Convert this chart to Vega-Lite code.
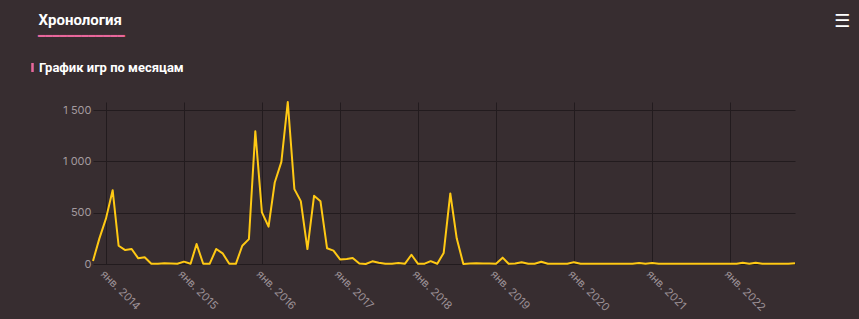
{
  "$schema": "https://vega.github.io/schema/vega-lite/v6.json",
  "width": 702,
  "height": 162,
  "autosize": {"type": "none"},
  "padding": {"left": 93, "top": 102, "right": 64, "bottom": 55},
  "background": "#372d30",
  "title": {
    "text": "━━━━━━━━━━━━",
    "anchor": "start",
    "frame": "group",
    "dx": -55,
    "dy": 11,
    "offset": -20,
    "font": "DejaVu Sans Mono",
    "fontSize": 12,
    "fontWeight": "normal",
    "color": "#e8679b"
  },
  "data": {
    "values": [
      {"m": "2013-11-01", "v": 30}, {"m": "2013-12-01", "v": 250},
      {"m": "2014-01-01", "v": 445}, {"m": "2014-02-01", "v": 720}, {"m": "2014-03-01", "v": 178}, {"m": "2014-04-01", "v": 136},
      {"m": "2014-05-01", "v": 146}, {"m": "2014-06-01", "v": 55}, {"m": "2014-07-01", "v": 65}, {"m": "2014-08-01", "v": 2},
      {"m": "2014-09-01", "v": 3}, {"m": "2014-10-01", "v": 8}, {"m": "2014-11-01", "v": 5}, {"m": "2014-12-01", "v": 2},
      {"m": "2015-01-01", "v": 23}, {"m": "2015-02-01", "v": 2}, {"m": "2015-03-01", "v": 195}, {"m": "2015-04-01", "v": 2},
      {"m": "2015-05-01", "v": 2}, {"m": "2015-06-01", "v": 146}, {"m": "2015-07-01", "v": 104}, {"m": "2015-08-01", "v": 2},
      {"m": "2015-09-01", "v": 2}, {"m": "2015-10-01", "v": 178}, {"m": "2015-11-01", "v": 243}, {"m": "2015-12-01", "v": 1295},
      {"m": "2016-01-01", "v": 503}, {"m": "2016-02-01", "v": 364}, {"m": "2016-03-01", "v": 795}, {"m": "2016-04-01", "v": 996},
      {"m": "2016-05-01", "v": 1580}, {"m": "2016-06-01", "v": 730}, {"m": "2016-07-01", "v": 613}, {"m": "2016-08-01", "v": 146},
      {"m": "2016-09-01", "v": 665}, {"m": "2016-10-01", "v": 613}, {"m": "2016-11-01", "v": 153}, {"m": "2016-12-01", "v": 130},
      {"m": "2017-01-01", "v": 45}, {"m": "2017-02-01", "v": 48}, {"m": "2017-03-01", "v": 58}, {"m": "2017-04-01", "v": 5},
      {"m": "2017-05-01", "v": 0}, {"m": "2017-06-01", "v": 26}, {"m": "2017-07-01", "v": 13}, {"m": "2017-08-01", "v": 2},
      {"m": "2017-09-01", "v": 2}, {"m": "2017-10-01", "v": 10}, {"m": "2017-11-01", "v": 3}, {"m": "2017-12-01", "v": 90},
      {"m": "2018-01-01", "v": 2}, {"m": "2018-02-01", "v": 3}, {"m": "2018-03-01", "v": 28}, {"m": "2018-04-01", "v": 2},
      {"m": "2018-05-01", "v": 108}, {"m": "2018-06-01", "v": 688}, {"m": "2018-07-01", "v": 250}, {"m": "2018-08-01", "v": 1},
      {"m": "2018-09-01", "v": 5}, {"m": "2018-10-01", "v": 8}, {"m": "2018-11-01", "v": 4}, {"m": "2018-12-01", "v": 5},
      {"m": "2019-01-01", "v": 3}, {"m": "2019-02-01", "v": 62}, {"m": "2019-03-01", "v": 2}, {"m": "2019-04-01", "v": 5},
      {"m": "2019-05-01", "v": 17}, {"m": "2019-06-01", "v": 3}, {"m": "2019-07-01", "v": 3}, {"m": "2019-08-01", "v": 22},
      {"m": "2019-09-01", "v": 3}, {"m": "2019-10-01", "v": 3}, {"m": "2019-11-01", "v": 2}, {"m": "2019-12-01", "v": 2},
      {"m": "2020-01-01", "v": 18}, {"m": "2020-02-01", "v": 3}, {"m": "2020-03-01", "v": 2}, {"m": "2020-04-01", "v": 2},
      {"m": "2020-05-01", "v": 3}, {"m": "2020-06-01", "v": 2}, {"m": "2020-07-01", "v": 2}, {"m": "2020-08-01", "v": 2},
      {"m": "2020-09-01", "v": 3}, {"m": "2020-10-01", "v": 2}, {"m": "2020-11-01", "v": 10}, {"m": "2020-12-01", "v": 3},
      {"m": "2021-01-01", "v": 10}, {"m": "2021-02-01", "v": 2}, {"m": "2021-03-01", "v": 2}, {"m": "2021-04-01", "v": 2},
      {"m": "2021-05-01", "v": 2}, {"m": "2021-06-01", "v": 2}, {"m": "2021-07-01", "v": 2}, {"m": "2021-08-01", "v": 2},
      {"m": "2021-09-01", "v": 2}, {"m": "2021-10-01", "v": 2}, {"m": "2021-11-01", "v": 2}, {"m": "2021-12-01", "v": 2},
      {"m": "2022-01-01", "v": 2}, {"m": "2022-02-01", "v": 3}, {"m": "2022-03-01", "v": 12}, {"m": "2022-04-01", "v": 3},
      {"m": "2022-05-01", "v": 12}, {"m": "2022-06-01", "v": 2}, {"m": "2022-07-01", "v": 2}, {"m": "2022-08-01", "v": 2},
      {"m": "2022-09-01", "v": 2}, {"m": "2022-10-01", "v": 2}, {"m": "2022-11-01", "v": 8}
    ]
  },
  "mark": {"type": "line", "strokeWidth": 2, "strokeJoin": "round"},
  "encoding": {
    "x": {
      "field": "m",
      "type": "temporal",
      "scale": {
        "type": "utc",
        "domain": [{"year": 2013, "month": 11, "date": 1, "utc": true}, {"year": 2022, "month": 11, "date": 1, "utc": true}]
      },
      "axis": {
        "title": "☰",
        "titleX": 748.5,
        "titleY": -242.5,
        "titleAlign": "center",
        "titleBaseline": "middle",
        "titleFont": "DejaVu Sans",
        "titleFontSize": 18,
        "titleFontWeight": "bold",
        "titleColor": "#ffffff",
        "values": [
          {"year": 2014, "month": 1, "date": 1, "utc": true}, {"year": 2015, "month": 1, "date": 1, "utc": true},
          {"year": 2016, "month": 1, "date": 1, "utc": true}, {"year": 2017, "month": 1, "date": 1, "utc": true},
          {"year": 2018, "month": 1, "date": 1, "utc": true}, {"year": 2019, "month": 1, "date": 1, "utc": true},
          {"year": 2020, "month": 1, "date": 1, "utc": true}, {"year": 2021, "month": 1, "date": 1, "utc": true},
          {"year": 2022, "month": 1, "date": 1, "utc": true}
        ],
        "format": "%b %Y",
        "labelAngle": 45,
        "labelAlign": "left",
        "labelBaseline": "top",
        "labelPadding": 4,
        "labelFlush": false,
        "labelOverlap": false,
        "labelFont": "Inter",
        "labelFontSize": 11,
        "labelColor": "#9c9196",
        "ticks": false,
        "domain": false,
        "grid": true,
        "gridColor": "#221b1e",
        "gridWidth": 1
      }
    },
    "y": {
      "field": "v",
      "type": "quantitative",
      "scale": {"domain": [0, 1580], "nice": false},
      "axis": {
        "title": "Хронология",
        "titleX": -55,
        "titleY": -78,
        "titleAngle": 0,
        "titleAlign": "left",
        "titleBaseline": "alphabetic",
        "titleFont": "Roboto",
        "titleFontSize": 15,
        "titleFontWeight": "bold",
        "titleColor": "#ffffff",
        "values": [0, 500, 1000, 1500],
        "format": ",d",
        "ticks": false,
        "domain": false,
        "grid": true,
        "gridColor": "#221b1e",
        "gridWidth": 1,
        "labelPadding": 2,
        "labelFont": "Inter",
        "labelFontSize": 11,
        "labelColor": "#a39a9e"
      }
    },
    "color": {
      "datum": "График игр по месяцам",
      "scale": {"range": ["#ffc914"]},
      "legend": {
        "orient": "none",
        "legendX": -67,
        "legendY": -41,
        "title": null,
        "padding": 0,
        "symbolType": "M-0.28,-1H0.28V1H-0.28Z",
        "symbolSize": 81,
        "symbolStrokeWidth": 0,
        "labelOffset": 0,
        "labelFont": "Roboto",
        "labelFontWeight": "bold",
        "labelFontSize": 13,
        "labelColor": "#ffffff",
        "labelLimit": 400,
        "encode": {
          "symbols": {
            "update": {
              "fill": {"value": "#e8679b"},
              "stroke": {"value": "#e8679b"},
              "strokeWidth": {"value": 0},
              "opacity": {"value": 1}
            }
          }
        }
      }
    }
  },
  "config": {
    "view": {"stroke": null},
    "locale": {
      "number": {"decimal": ",", "thousands": " ", "grouping": [3], "currency": ["", " ₽"]},
      "time": {
        "dateTime": "%A, %e %B %Y г. %X",
        "date": "%d.%m.%Y",
        "time": "%H:%M:%S",
        "periods": ["AM", "PM"],
        "days": ["воскресенье", "понедельник", "вторник", "среда", "четверг", "пятница", "суббота"],
        "shortDays": ["вс", "пн", "вт", "ср", "чт", "пт", "сб"],
        "months": ["января", "февраля", "марта", "апреля", "мая", "июня", "июля", "августа", "сентября", "октября", "ноября", "декабря"],
        "shortMonths": ["янв.", "февр.", "март", "апр.", "май", "июнь", "июль", "авг.", "сент.", "окт.", "нояб.", "дек."]
      }
    }
  }
}
